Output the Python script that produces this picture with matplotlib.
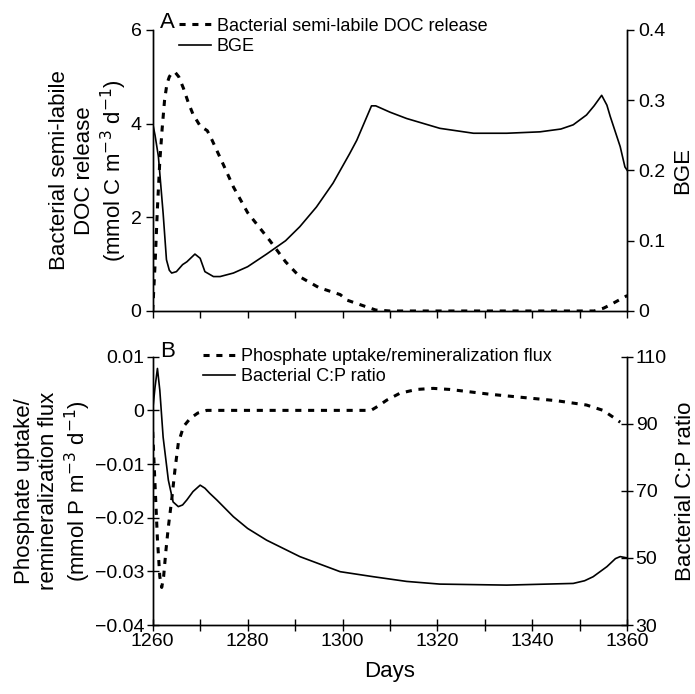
import matplotlib
matplotlib.use("Agg")
import matplotlib.pyplot as plt
from matplotlib.ticker import MultipleLocator, FuncFormatter

plt.rcParams['font.family'] = ['Liberation Sans', 'DejaVu Sans']
plt.rcParams['axes.linewidth'] = 1.0

# Panel A: bacterial semi-labile DOC release (left) and BGE (right)
doc_days = [1260, 1260.5, 1261, 1261.5, 1262, 1262.5, 1263, 1263.5, 1264, 1264.7,
            1265.5, 1266.5, 1267.5, 1268.5, 1270, 1271.5, 1272.5, 1275, 1277, 1280,
            1284.7, 1288, 1291, 1295, 1299.5, 1301, 1304.7, 1307, 1310, 1353,
            1355, 1356.4, 1358, 1360]
doc_release = [0.0, 1.0, 2.2, 3.2, 3.9, 4.5, 4.85, 5.0, 5.08, 5.1,
               5.0, 4.75, 4.45, 4.2, 3.95, 3.85, 3.65, 3.1, 2.65, 2.1,
               1.5, 1.05, 0.73, 0.5, 0.35, 0.23, 0.1, 0.02, 0.0, 0.0,
               0.06, 0.13, 0.22, 0.33]

bge_days = [1260, 1260.5, 1261.2, 1262.2, 1262.9, 1263.5, 1264.0, 1265.0, 1266.3,
            1267.2, 1268.9, 1270.0, 1271.0, 1272.8, 1274.2, 1277, 1280, 1284,
            1288, 1291, 1294.5, 1298, 1301.5, 1303, 1306.1, 1307, 1310, 1313.5,
            1320.5, 1327.6, 1334.6, 1341.6, 1346, 1348.6, 1351.4, 1353, 1354.6,
            1355.7, 1356.4, 1358.5, 1359.5, 1360]
bge = [0.267, 0.25, 0.22, 0.139, 0.073, 0.058, 0.054, 0.056, 0.066,
       0.070, 0.081, 0.075, 0.056, 0.049, 0.049, 0.054, 0.063, 0.081,
       0.1, 0.12, 0.148, 0.182, 0.224, 0.243, 0.292, 0.292, 0.283, 0.274,
       0.26, 0.253, 0.253, 0.255, 0.259, 0.265, 0.279, 0.292, 0.307,
       0.293, 0.277, 0.234, 0.205, 0.2]

# Panel B: phosphate uptake/remineralization flux (left) and bacterial C:P (right)
p_days = [1260, 1260.5, 1261, 1261.5, 1261.9, 1262.3, 1262.8, 1263.3, 1264, 1264.7,
          1265.4, 1266.5, 1267.9, 1269.5, 1271.4, 1306, 1307.5, 1309.3, 1312.1,
          1315.6, 1319.1, 1322.6, 1331.1, 1338.1, 1345.1, 1351.4, 1354.9, 1357.4,
          1358.5]
p_flux = [-0.004, -0.014, -0.024, -0.031, -0.033, -0.031, -0.026, -0.0217, -0.0167, -0.011,
          -0.0061, -0.003, -0.0015, -0.0005, 0.0, 0.0, 0.0008, 0.0019, 0.0032,
          0.0039, 0.0041, 0.0039, 0.003, 0.0024, 0.0018, 0.001, 0.0, -0.0015,
          -0.0022]

cp_days = [1260, 1260.5, 1261, 1261.5, 1262.2, 1263.3, 1264.3, 1265.4, 1266.3, 1267.2,
           1268.5, 1270, 1271, 1272, 1273.5, 1277, 1280, 1284, 1291, 1299.5,
           1306.5, 1313.5, 1320.5, 1334.6, 1348.6, 1351, 1352.8, 1355.7, 1357.5,
           1358.5, 1360]
cp_ratio = [94, 101, 106.5, 100, 86, 73.2, 66.7, 65.3, 65.8, 67.3,
            69.8, 71.7, 70.8, 69.3, 67.3, 62.3, 58.8, 55.3, 50.4, 45.9,
            44.4, 43.0, 42.2, 41.9, 42.4, 43.2, 44.4, 47.4, 49.8,
            50.4, 50]

dash = (0, (2.0, 2.2))
fs_tick = 14
fs_label = 16
fs_leg = 13

fig = plt.figure(figsize=(6.95, 6.94), dpi=100)
axA = fig.add_axes([0.2197, 0.5519, 0.6829, 0.4049])
axB = fig.add_axes([0.2197, 0.0994, 0.6829, 0.3866])

# ---- panel A
axA.plot(doc_days, doc_release, color='black', lw=2.2, linestyle=dash,
         label='Bacterial semi-labile DOC release')
axA2 = axA.twinx()
axA2.plot(bge_days, bge, color='black', lw=1.2)
axA.plot([], [], color='black', lw=1.2, label='BGE')
axA.set_xlim(1260, 1360)
axA.set_ylim(0, 6)
axA2.set_ylim(0, 0.4)
axA.set_yticks([0, 2, 4, 6])
axA2.set_yticks([0, 0.1, 0.2, 0.3, 0.4])
axA2.yaxis.set_major_formatter(FuncFormatter(lambda v, p: '0' if v == 0 else f'{v:.1f}'))
axA.xaxis.set_major_locator(MultipleLocator(10))
axA.set_xticklabels([])
for a in (axA, axA2):
    a.spines['top'].set_visible(False)
    a.tick_params(direction='out', length=5, width=1, labelsize=fs_tick, pad=3)
axA.set_ylabel('Bacterial semi-labile\nDOC release\n(mmol C m$^{-3}$ d$^{-1}$)',
               fontsize=fs_label, labelpad=1, linespacing=1.2)
axA2.set_ylabel('BGE', fontsize=fs_label, labelpad=5)
axA.text(0.015, 1.025, 'A', transform=axA.transAxes, fontsize=16, va='center', ha='left')
axA.legend(loc='upper left', bbox_to_anchor=(0.04, 1.07), frameon=False, fontsize=fs_leg,
           handlelength=1.8, handletextpad=0.3, labelspacing=0.2, borderaxespad=0)

# ---- panel B
axB.plot(p_days, p_flux, color='black', lw=2.2, linestyle=dash,
         label='Phosphate uptake/remineralization flux')
axB2 = axB.twinx()
axB2.plot(cp_days, cp_ratio, color='black', lw=1.2)
axB.plot([], [], color='black', lw=1.2, label='Bacterial C:P ratio')
axB.set_xlim(1260, 1360)
axB.set_ylim(-0.04, 0.01)
axB2.set_ylim(30, 110)
axB.set_yticks([-0.04, -0.03, -0.02, -0.01, 0, 0.01])
axB.yaxis.set_major_formatter(FuncFormatter(
    lambda v, p: '0' if abs(v) < 1e-9 else f'{v:.2f}'.replace('-', '\u2212')))
axB2.set_yticks([30, 50, 70, 90, 110])
axB.xaxis.set_major_locator(MultipleLocator(20))
axB.xaxis.set_minor_locator(MultipleLocator(10))
for a in (axB, axB2):
    a.spines['top'].set_visible(False)
    a.tick_params(which='both', direction='inout', length=8, width=1, labelsize=fs_tick, pad=2)
axB.set_xlabel('Days', fontsize=fs_label, labelpad=8)
axB.set_ylabel('Phosphate uptake/\nremineralization flux\n(mmol P m$^{-3}$ d$^{-1}$)',
               fontsize=fs_label, labelpad=1, linespacing=1.2)
axB2.set_ylabel('Bacterial C:P ratio', fontsize=fs_label, labelpad=6)
axB.text(0.015, 1.02, 'B', transform=axB.transAxes, fontsize=16, va='center', ha='left')
axB.legend(loc='upper left', bbox_to_anchor=(0.09, 1.06), frameon=False, fontsize=fs_leg,
           handlelength=1.8, handletextpad=0.3, labelspacing=0.2, borderaxespad=0)

fig.savefig('out.png', dpi=100)
